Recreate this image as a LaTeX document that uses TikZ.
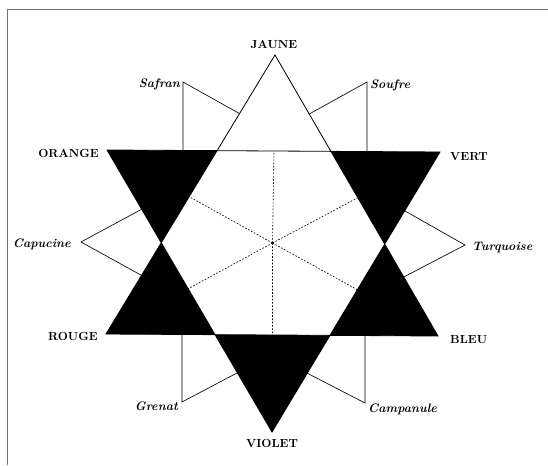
\documentclass[tikz,border=0pt]{standalone}
\usepackage{tikz}
\usetikzlibrary{calc}

\begin{document}
\begin{tikzpicture}[
  x=0.3mm, y=-0.3mm,
  every node/.style={inner sep=0pt},
  mainhue/.style={font=\fontsize{10}{12}\selectfont\bfseries},
  subhue/.style ={font=\fontsize{10.5}{12}\selectfont\bfseries\itshape},
  triedge/.style={line width=0.7pt, line join=miter},
  pointfill/.style={fill=black},
  guide/.style={dash pattern=on 1.4pt off 1.4pt, line width=0.55pt},
  hueline/.style={line width=0.55pt},
  frameline/.style={black!55, line width=0.8pt},
]
\useasboundingbox (0,0) rectangle (548,465);

%% ── Frame ───────────────────────────────────────────────────────────────────
\draw[frameline] (7,465) -- (7,9) -- (548,9);

%% ── The two triangles ───────────────────────────────────────────────────────
\coordinate (jaune)  at (275,55);
\coordinate (rouge)  at (106,334);
\coordinate (bleu)   at (438,336);
\coordinate (orange) at (107,150);
\coordinate (vert)   at (440,152);
\coordinate (violet) at (272,432);
\coordinate (centre) at (272.5,243);

%% hexagon where the edges cross
\coordinate (hTL) at (intersection of jaune--rouge and orange--vert);
\coordinate (hTR) at (intersection of jaune--bleu and orange--vert);
\coordinate (hL)  at (intersection of jaune--rouge and orange--violet);
\coordinate (hR)  at (intersection of jaune--bleu and vert--violet);
\coordinate (hBL) at (intersection of rouge--bleu and orange--violet);
\coordinate (hBR) at (intersection of rouge--bleu and vert--violet);

%% black points, all but the top one
\fill[pointfill] (orange) -- (hTL) -- (hL)  -- cycle;
\fill[pointfill] (vert)   -- (hTR) -- (hR)  -- cycle;
\fill[pointfill] (rouge)  -- (hL)  -- (hBL) -- cycle;
\fill[pointfill] (bleu)   -- (hR)  -- (hBR) -- cycle;
\fill[pointfill] (violet) -- (hBL) -- (hBR) -- cycle;

\draw[triedge] (jaune) -- (rouge) -- (bleu) -- cycle;
\draw[triedge] (orange) -- (vert) -- (violet) -- cycle;

%% dotted rays to the middle of each hexagon side
\foreach \a/\b in {hTL/hTR, hTR/hR, hR/hBR, hBR/hBL, hBL/hL, hL/hTL}
  \draw[guide] (centre) -- ($(\a)!0.5!(\b)$);

%% ── Intermediate hues ───────────────────────────────────────────────────────
\coordinate (safran)    at (183,82);
\coordinate (soufre)    at (367,82);
\coordinate (capucine)  at (81,242);
\coordinate (turquoise) at (465,245);
\coordinate (grenat)    at (182,402);
\coordinate (campanule) at (365,403);

\draw[hueline] ($(jaune)!0.21!(rouge)$) -- (safran) -- (safran |- orange);
\draw[hueline] ($(jaune)!0.21!(bleu)$)  -- (soufre) -- (soufre |- vert);
\draw[hueline] ($(orange)!0.21!(violet)$) -- (capucine) -- ($(rouge)!0.21!(jaune)$);
\draw[hueline] ($(vert)!0.21!(violet)$)   -- (turquoise) -- ($(bleu)!0.21!(jaune)$);
\draw[hueline] ($(violet)!0.21!(orange)$) -- (grenat) -- (grenat |- rouge);
\draw[hueline] ($(violet)!0.21!(vert)$)   -- (campanule) -- (campanule |- bleu);

%% ── Labels ──────────────────────────────────────────────────────────────────
\node[mainhue, anchor=base]      (tJaune)  at (274,48)  {JAUNE};
\node[mainhue, anchor=base east] (tOrange) at (99,157)  {ORANGE};
\node[mainhue, anchor=base west] (tVert)   at (450,160) {VERT};
\node[mainhue, anchor=base east] (tRouge)  at (98,340)  {ROUGE};
\node[mainhue, anchor=base west] (tBleu)   at (450,343) {BLEU};
\node[mainhue, anchor=base]      (tViolet) at (272,447) {VIOLET};

\node[subhue, anchor=base east] (tSafran)    at (180,87)  {Safran};
\node[subhue, anchor=base west] (tSoufre)    at (370,88)  {Soufre};
\node[subhue, anchor=base east] (tCapucine)  at (71,247)  {Capucine};
\node[subhue, anchor=base west] (tTurquoise) at (472,250) {Turquoise};
\node[subhue, anchor=base east] (tGrenat)    at (178,410) {Grenat};
\node[subhue, anchor=base west] (tCampanule) at (368,412) {Campanule};

\end{tikzpicture}
\end{document}
